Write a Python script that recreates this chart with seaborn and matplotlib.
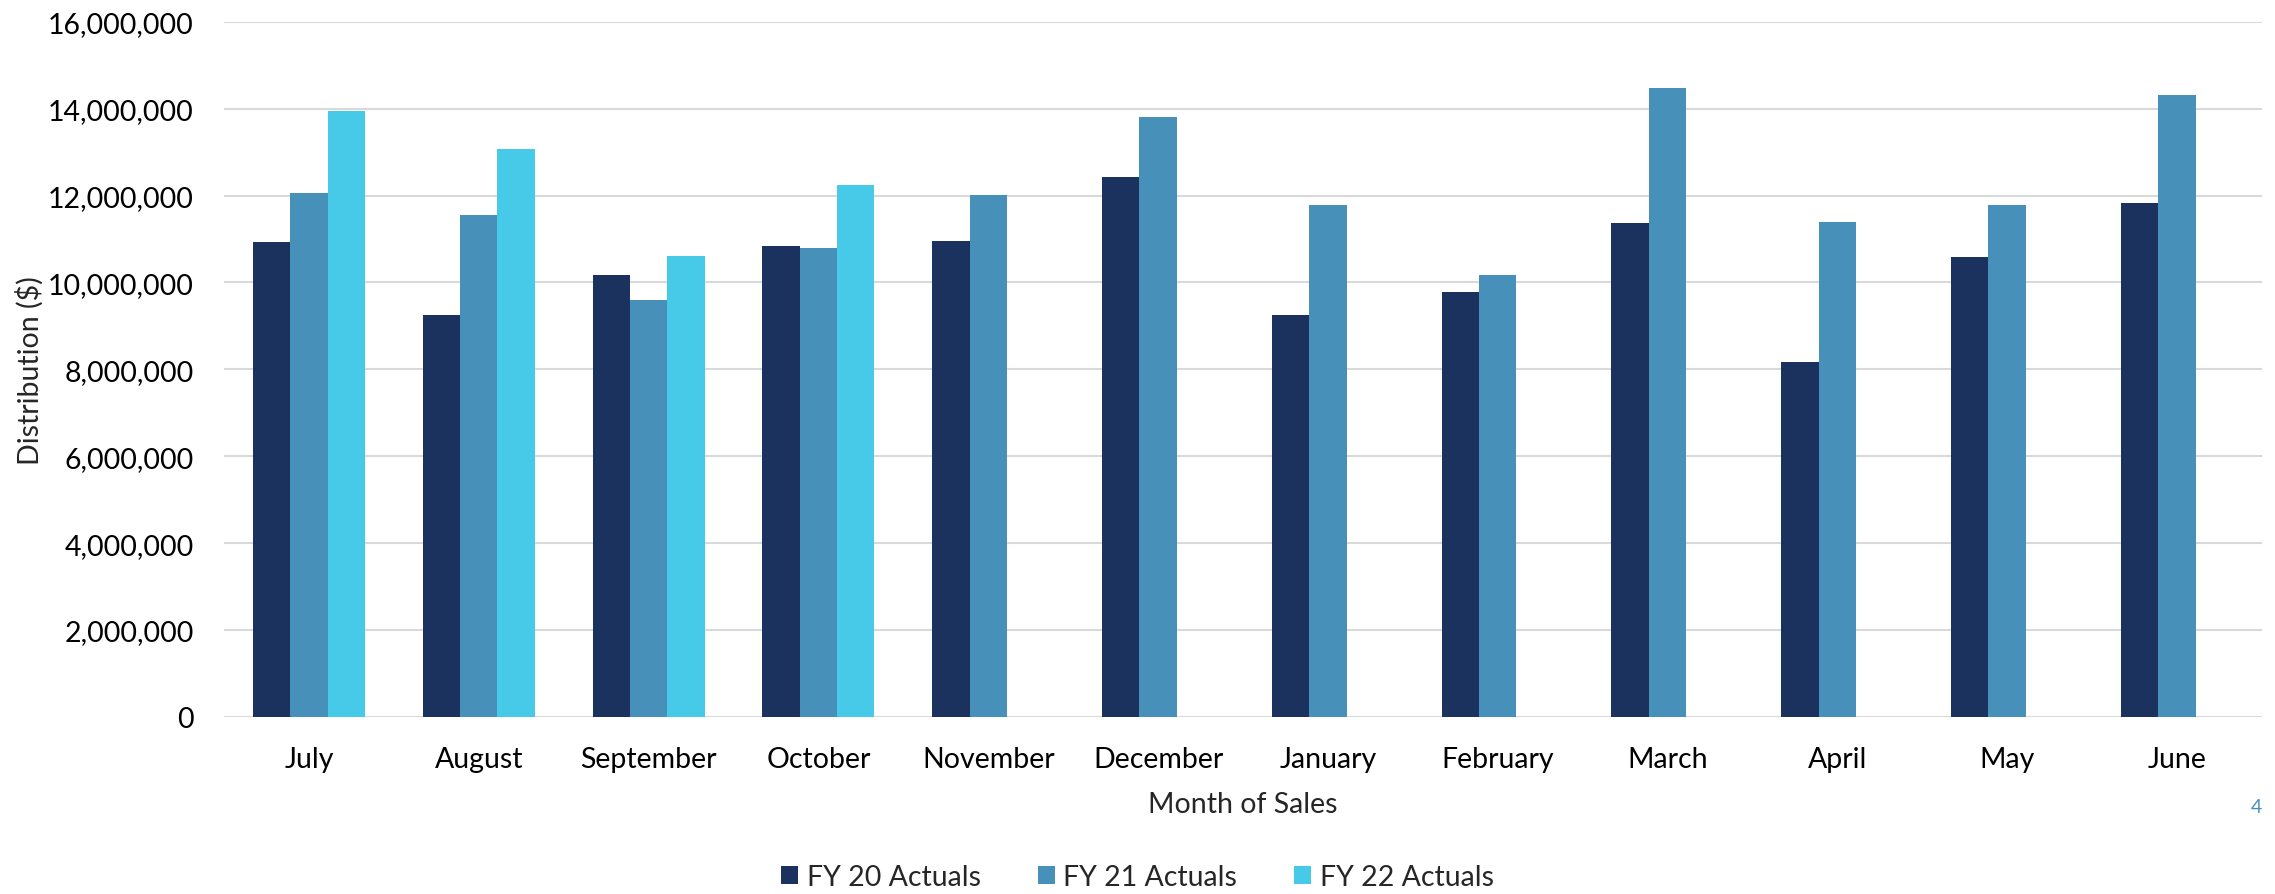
import seaborn as sns
import matplotlib.pyplot as plt
import pandas as pd
import numpy as np
from matplotlib.ticker import FuncFormatter

months = ['July', 'August', 'September', 'October', 'November', 'December',
          'January', 'February', 'March', 'April', 'May', 'June']
series = ['FY 20 Actuals', 'FY 21 Actuals', 'FY 22 Actuals']
fy20 = [10940000, 9240000, 10180000, 10830000, 10950000, 12430000,
        9260000, 9790000, 11370000, 8160000, 10580000, 11840000]
fy21 = [12070000, 11550000, 9600000, 10790000, 12020000, 13810000,
        11790000, 10160000, 14480000, 11390000, 11780000, 14320000]
fy22 = [13950000, 13080000, 10610000, 12240000, np.nan, np.nan,
        np.nan, np.nan, np.nan, np.nan, np.nan, np.nan]
colors = ['#1B325F', '#4690BA', '#47CAE8']

rows = []
for name, vals in zip(series, [fy20, fy21, fy22]):
    for m, v in zip(months, vals):
        rows.append({'Month': m, 'Series': name, 'Value': v})
df = pd.DataFrame(rows)

sns.set_theme(style='white')
plt.rcParams['font.family'] = ['Lato', 'DejaVu Sans']
fontsize = 20.5

fig = plt.figure(figsize=(22.75, 8.95), dpi=100)
ax = fig.add_axes([0.0985, 0.198, 0.8957, 0.7765])
sns.barplot(data=df, x='Month', y='Value', hue='Series', order=months, hue_order=series,
            palette=colors, saturation=1, width=0.66, errorbar=None, linewidth=0, ax=ax)

ax.set_ylim(0, 16000000)
ax.set_yticks(np.arange(0, 16000001, 2000000))
ax.yaxis.set_major_formatter(FuncFormatter(lambda v, p: '{:,.0f}'.format(v)))
ax.grid(axis='y', color='#D9D9D9', linewidth=1.5, zorder=0)
ax.set_axisbelow(True)
for s in ax.spines.values():
    s.set_visible(False)
ax.tick_params(axis='both', length=0, labelsize=fontsize, colors='black')
ax.tick_params(axis='y', pad=22)
ax.tick_params(axis='x', pad=21)
ax.set_xlim(-0.5, 11.5)

ax.set_ylabel('Distribution ($)', fontsize=fontsize)
ax.set_xlabel('Month of Sales', fontsize=fontsize)
ax.yaxis.set_label_coords(-0.0886, 0.5)
ax.xaxis.set_label_coords(0.5, -0.107)

ax.legend(loc='center', bbox_to_anchor=(0.5, 0.0185), bbox_transform=fig.transFigure,
          ncol=3, frameon=False, fontsize=fontsize, handlelength=0.6, handleheight=0.6,
          handletextpad=0.3, columnspacing=2.0, borderaxespad=0)

fig.text(0.9945, 0.098, '4', color='#4690BA', fontsize=14, ha='right', va='center')

plt.savefig('out.png', dpi=100)
